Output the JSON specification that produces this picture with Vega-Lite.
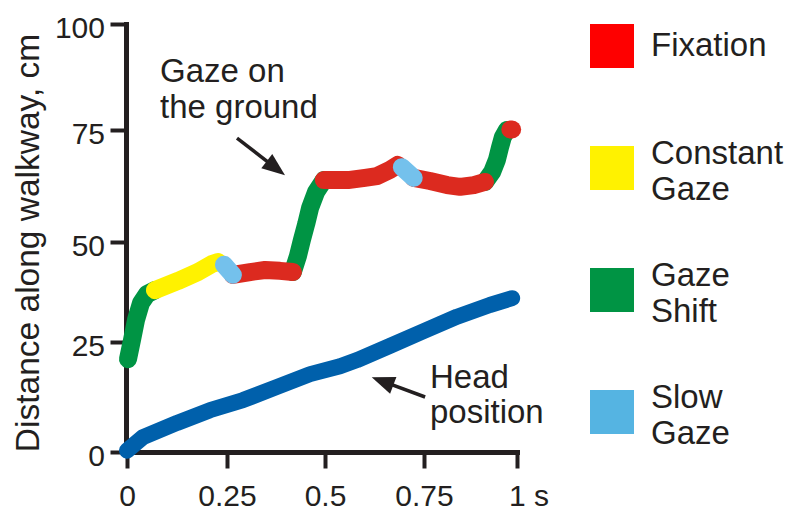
{
  "$schema": "https://vega.github.io/schema/vega-lite/v6.json",
  "width": 390,
  "height": 428,
  "autosize": {"type": "none"},
  "padding": {"left": 127, "top": 24, "right": 283, "bottom": 69},
  "background": "white",
  "config": {
    "view": {"stroke": null},
    "font": "Liberation Sans",
    "axis": {
      "domainColor": "#231f20", "domainWidth": 5, "domainCap": "square",
      "tickColor": "#231f20", "tickWidth": 4, "tickSize": 16,
      "labelFont": "Liberation Sans", "labelFontSize": 30, "labelColor": "#231f20",
      "grid": false, "labelFlush": false, "labelOverlap": false, "labelBound": false
    }
  },
  "datasets": {
    "head": [
      {"t": 0, "d": 0.3}, {"t": 0.04, "d": 3.4}, {"t": 0.125, "d": 6.6}, {"t": 0.2075, "d": 9.5},
      {"t": 0.291, "d": 11.8}, {"t": 0.378, "d": 14.8}, {"t": 0.462, "d": 17.7}, {"t": 0.538, "d": 19.5},
      {"t": 0.581, "d": 20.9}, {"t": 0.664, "d": 24.1}, {"t": 0.747, "d": 27.6}, {"t": 0.839, "d": 31.3},
      {"t": 0.927, "d": 34.2}, {"t": 0.987, "d": 35.9}
    ],
    "gaze": [
      {"seg": "g1", "state": "Gaze Shift", "t": 0.0025, "d": 21.1},
      {"seg": "g1", "state": "Gaze Shift", "t": 0.0125, "d": 25.5},
      {"seg": "g1", "state": "Gaze Shift", "t": 0.0225, "d": 30.5},
      {"seg": "g1", "state": "Gaze Shift", "t": 0.035, "d": 34.7},
      {"seg": "g1", "state": "Gaze Shift", "t": 0.05, "d": 36.9},
      {"seg": "g1", "state": "Gaze Shift", "t": 0.07, "d": 37.9},
      {"seg": "y1", "state": "Constant Gaze", "t": 0.07, "d": 37.9},
      {"seg": "y1", "state": "Constant Gaze", "t": 0.1275, "d": 40.2},
      {"seg": "y1", "state": "Constant Gaze", "t": 0.1775, "d": 42.4},
      {"seg": "y1", "state": "Constant Gaze", "t": 0.2125, "d": 44.4},
      {"seg": "y1", "state": "Constant Gaze", "t": 0.2275, "d": 44.9},
      {"seg": "b1", "state": "Slow Gaze", "t": 0.2425, "d": 44.2},
      {"seg": "b1", "state": "Slow Gaze", "t": 0.265, "d": 41.7},
      {"seg": "r1", "state": "Fixation", "t": 0.265, "d": 41.7},
      {"seg": "r1", "state": "Fixation", "t": 0.309, "d": 42.4},
      {"seg": "r1", "state": "Fixation", "t": 0.347, "d": 42.9},
      {"seg": "r1", "state": "Fixation", "t": 0.385, "d": 42.7},
      {"seg": "r1", "state": "Fixation", "t": 0.418, "d": 42.4},
      {"seg": "g2", "state": "Gaze Shift", "t": 0.418, "d": 42.4},
      {"seg": "g2", "state": "Gaze Shift", "t": 0.431, "d": 46.4},
      {"seg": "g2", "state": "Gaze Shift", "t": 0.441, "d": 50.3},
      {"seg": "g2", "state": "Gaze Shift", "t": 0.452, "d": 53.9},
      {"seg": "g2", "state": "Gaze Shift", "t": 0.462, "d": 57.5},
      {"seg": "g2", "state": "Gaze Shift", "t": 0.477, "d": 61.0},
      {"seg": "g2", "state": "Gaze Shift", "t": 0.497, "d": 63.7},
      {"seg": "r2", "state": "Fixation", "t": 0.497, "d": 63.7},
      {"seg": "r2", "state": "Fixation", "t": 0.558, "d": 63.7},
      {"seg": "r2", "state": "Fixation", "t": 0.601, "d": 64.2},
      {"seg": "r2", "state": "Fixation", "t": 0.631, "d": 64.6},
      {"seg": "r2", "state": "Fixation", "t": 0.664, "d": 66.0},
      {"seg": "r2", "state": "Fixation", "t": 0.684, "d": 67.1},
      {"seg": "b2", "state": "Slow Gaze", "t": 0.694, "d": 66.6},
      {"seg": "b2", "state": "Slow Gaze", "t": 0.724, "d": 64.2},
      {"seg": "r3", "state": "Fixation", "t": 0.724, "d": 64.2},
      {"seg": "r3", "state": "Fixation", "t": 0.766, "d": 63.5},
      {"seg": "r3", "state": "Fixation", "t": 0.812, "d": 62.6},
      {"seg": "r3", "state": "Fixation", "t": 0.847, "d": 62.2},
      {"seg": "r3", "state": "Fixation", "t": 0.884, "d": 62.6},
      {"seg": "r3", "state": "Fixation", "t": 0.914, "d": 63.3},
      {"seg": "g3", "state": "Gaze Shift", "t": 0.914, "d": 63.3},
      {"seg": "g3", "state": "Gaze Shift", "t": 0.933, "d": 65.5},
      {"seg": "g3", "state": "Gaze Shift", "t": 0.946, "d": 68.2},
      {"seg": "g3", "state": "Gaze Shift", "t": 0.954, "d": 70.9},
      {"seg": "g3", "state": "Gaze Shift", "t": 0.962, "d": 73.3},
      {"seg": "g3", "state": "Gaze Shift", "t": 0.973, "d": 74.9},
      {"seg": "r4", "state": "Fixation", "t": 0.982, "d": 75.0},
      {"seg": "r4", "state": "Fixation", "t": 0.987, "d": 75.0}
    ],
    "notes": [
      {"t": 0.0825, "d": 86.3, "label": "Gaze on"},
      {"t": 0.0825, "d": 77.7, "label": "the ground"},
      {"t": 0.766, "d": 14.5, "label": "Head"},
      {"t": 0.766, "d": 6.6, "label": "position"}
    ],
    "arrows": [
      {"t": 0.2755, "d": 73.1, "t2": 0.367, "d2": 66.9},
      {"t": 0.753, "d": 12.5, "t2": 0.653, "d2": 15.8}
    ],
    "tips": [
      {"t": 0.398, "d": 64.8, "ang": 127.6},
      {"t": 0.618, "d": 17.0, "ang": 290.6}
    ]
  },
  "encoding": {
    "x": {
      "field": "t", "type": "quantitative", "title": null,
      "scale": {"domain": [0, 0.25, 0.5, 0.75, 1], "range": [0, 100, 198, 297, 390], "nice": false, "zero": false},
      "axis": {
        "values": [0, 0.25, 0.5, 0.75, 1], "title": null, "grid": false,
        "domainColor": "#231f20", "domainWidth": 5, "domainCap": "square",
        "tickColor": "#231f20", "tickWidth": 4, "tickSize": 16,
        "labelFont": "Liberation Sans", "labelFontSize": 30, "labelColor": "#231f20", "labelPadding": 13.5,
        "labelFlush": false, "labelOverlap": false, "labelBound": false,
        "labelExpr": "datum.value === 1 ? '1 s' : '' + datum.value",
        "labelAlign": {"condition": {"test": "datum.value === 1", "value": "left"}, "value": "center"},
        "labelOffset": {"condition": {"test": "datum.value === 1", "value": -8.5}, "value": 0}
      }
    },
    "y": {
      "field": "d", "type": "quantitative", "title": "Distance along walkway, cm",
      "scale": {"domain": [0, 25, 50, 75, 100], "range": [428, 318, 217.5, 105.5, 0], "nice": false, "zero": false},
      "axis": {
        "values": [0, 25, 50, 75, 100], "labelExpr": "'' + datum.value", "title": "Distance along walkway, cm", "grid": false,
        "offset": 1,
        "domainColor": "#231f20", "domainWidth": 5, "domainCap": "square",
        "tickColor": "#231f20", "tickWidth": 4, "tickSize": 16,
        "labelFont": "Liberation Sans", "labelFontSize": 30, "labelColor": "#231f20", "labelPadding": 5.5,
        "labelOffset": 4.5, "labelFlush": false, "labelOverlap": false, "labelBound": false,
        "titleFont": "Liberation Sans", "titleFontSize": 33.5, "titleFontWeight": "normal", "titleColor": "#231f20",
        "titleAngle": -90, "titleAlign": "center", "titleBaseline": "alphabetic", "titleX": -88, "titleY": 218.5
      }
    }
  },
  "layer": [
    {
      "data": {"name": "head"},
      "mark": {"type": "line", "color": "#0060ab", "strokeWidth": 16, "strokeCap": "round", "strokeJoin": "round"}
    },
    {
      "data": {"name": "gaze"},
      "transform": [{"filter": "datum.state === 'Gaze Shift'"}],
      "mark": {"type": "line", "strokeWidth": 18, "strokeCap": "round", "strokeJoin": "round"},
      "encoding": {
        "detail": {"field": "seg", "type": "nominal"},
        "color": {
          "field": "state", "type": "nominal",
          "scale": {"domain": ["Fixation", "Constant Gaze", "Gaze Shift", "Slow Gaze"], "range": ["#dc2a1f", "#fff200", "#009444", "#74c1ec"]},
          "legend": {
            "title": null, "orient": "none", "legendX": 463, "legendY": -18, "padding": 0,
            "symbolType": "square", "symbolSize": 1936, "symbolStrokeWidth": 0,
            "labelFont": "Liberation Sans", "labelFontSize": 33, "labelColor": "#231f20", "labelOffset": 17, "labelLimit": 300,
            "clipHeight": 80, "rowPadding": 42,
            "labelExpr": "split(datum.label, ' ')",
            "encode": {
              "symbols": {"update": {
                "fill": {"signal": "datum.value === 'Fixation' ? '#fe0000' : datum.value === 'Constant Gaze' ? '#fff200' : datum.value === 'Gaze Shift' ? '#009444' : '#55b4e2'"},
                "stroke": {"value": "transparent"}, "strokeWidth": {"value": 0}, "opacity": {"value": 1}
              }},
              "labels": {"update": {"lineHeight": {"value": 36}, "dy": {"signal": "datum.value === 'Fixation' ? 0 : -13.6"}}}
            }
          }
        }
      }
    },
    {
      "data": {"name": "gaze"},
      "transform": [{"filter": "datum.state === 'Constant Gaze'"}],
      "mark": {"type": "line", "strokeWidth": 18, "strokeCap": "round", "strokeJoin": "round"},
      "encoding": {
        "detail": {"field": "seg", "type": "nominal"},
        "color": {"field": "state", "type": "nominal"}
      }
    },
    {
      "data": {"name": "gaze"},
      "transform": [{"filter": "datum.state === 'Fixation'"}],
      "mark": {"type": "line", "strokeWidth": 18, "strokeCap": "round", "strokeJoin": "round"},
      "encoding": {
        "detail": {"field": "seg", "type": "nominal"},
        "color": {"field": "state", "type": "nominal"}
      }
    },
    {
      "data": {"name": "gaze"},
      "transform": [{"filter": "datum.state === 'Slow Gaze'"}],
      "mark": {"type": "line", "strokeWidth": 18, "strokeCap": "round", "strokeJoin": "round"},
      "encoding": {
        "detail": {"field": "seg", "type": "nominal"},
        "color": {"field": "state", "type": "nominal"}
      }
    },
    {
      "data": {"name": "arrows"},
      "mark": {"type": "rule", "color": "#231f20", "strokeWidth": 3.5},
      "encoding": {
        "x2": {"field": "t2"},
        "y2": {"field": "d2"}
      }
    },
    {
      "data": {"name": "tips"},
      "mark": {"type": "point", "shape": "M0,0 L0.78,2 L-0.78,2 Z", "filled": true, "color": "#231f20", "size": 529, "opacity": 1, "strokeWidth": 0},
      "encoding": {
        "angle": {"field": "ang", "type": "quantitative", "scale": null}
      }
    },
    {
      "data": {"name": "notes"},
      "mark": {"type": "text", "align": "left", "baseline": "alphabetic", "fontSize": 33, "font": "Liberation Sans", "color": "#231f20"},
      "encoding": {
        "text": {"field": "label", "type": "nominal"}
      }
    }
  ]
}
